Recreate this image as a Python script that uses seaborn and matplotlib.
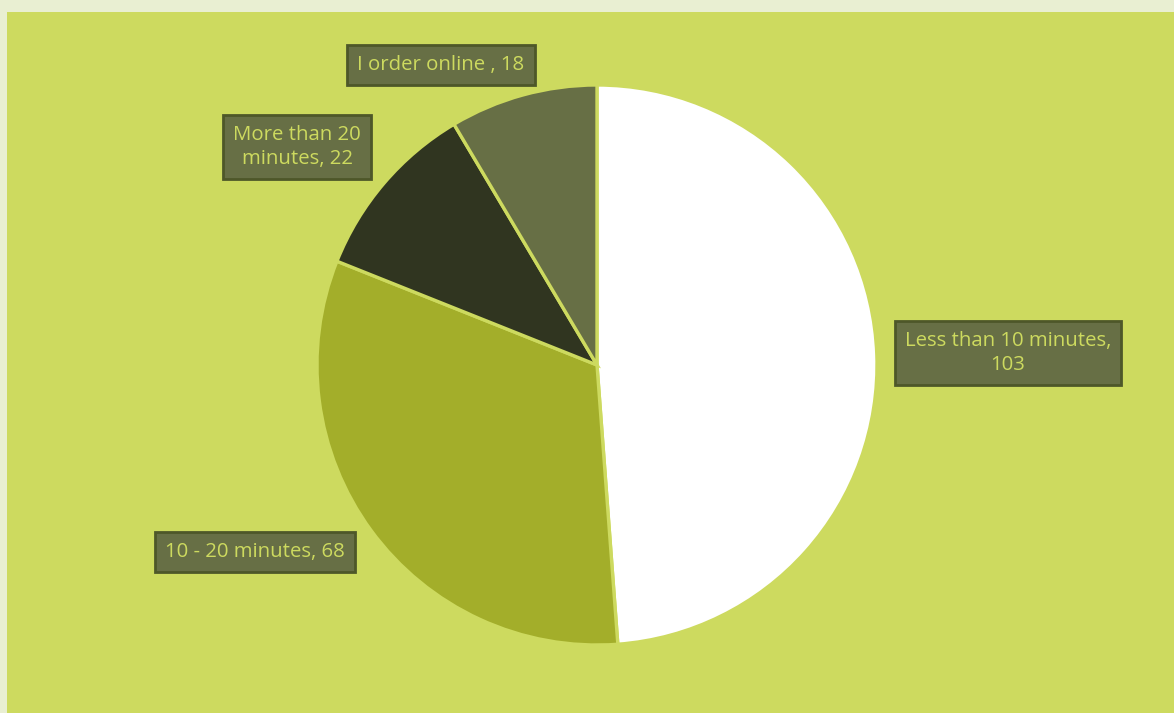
import matplotlib
matplotlib.use("Agg")
import matplotlib.pyplot as plt
import seaborn as sns
from matplotlib.patches import Rectangle

categories = ["Less than 10 minutes", "10 - 20 minutes", "More than 20 minutes", "I order online "]
values = [103, 68, 22, 18]
label_texts = ["Less than 10 minutes,\n103", "10 - 20 minutes, 68", "More than 20\nminutes, 22", "I order online , 18"]
colors = ["#FFFFFF", "#A3AE2A", "#303520", "#676F45"]

sns.set_theme(style="white")
plt.rcParams['font.family'] = ['Open Sans', 'DejaVu Sans']

W, H = 1174, 713
fig = plt.figure(figsize=(W / 100, H / 100), dpi=100, facecolor="#E9EFD2")
ax = fig.add_axes([0, 0, 1, 1])
ax.set_xlim(0, W)
ax.set_ylim(0, H)
ax.set_aspect("equal")
ax.axis("off")

bg = "#CDDA5F"
ax.add_patch(Rectangle((7, 0), W - 7, H - 12, facecolor=bg, edgecolor="none", zorder=0))

wedges, _ = ax.pie(values, colors=colors, startangle=90, counterclock=False,
                   center=(597, H - 365), radius=280, frame=True,
                   wedgeprops=dict(edgecolor=bg, linewidth=2.4))
for w in wedges:
    w.set_zorder(2)
ax.set_xlim(0, W)
ax.set_ylim(0, H)
ax.axis("off")

label_pos = [(1008, H - 353), (255, H - 552), (297, H - 147), (441, H - 65)]
for txt, (x, y) in zip(label_texts, label_pos):
    ax.text(x, y, txt, ha="center", va="center", fontsize=14.7, color=bg,
            linespacing=1.3, zorder=5,
            bbox=dict(boxstyle="square,pad=0.5", facecolor="#676F45",
                      edgecolor="#4E5729", linewidth=2))

fig.savefig("out.png", dpi=100, facecolor=fig.get_facecolor())
